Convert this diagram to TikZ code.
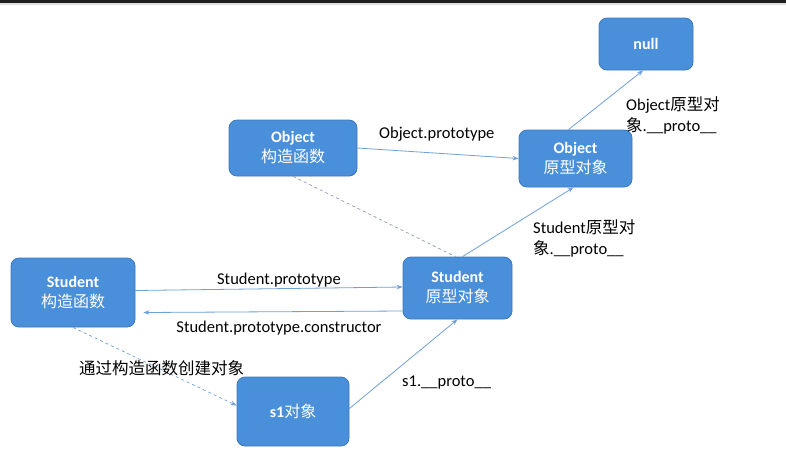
\documentclass[tikz,border=0pt]{standalone}
\usepackage{fontspec}
\setmainfont{Carlito}
\newfontfamily\cjk{Noto Sans CJK SC}
\usetikzlibrary{arrows.meta,calc}
\definecolor{boxblue}{HTML}{4A8FD9}
\definecolor{boxedge}{HTML}{3C78BE}
\definecolor{linkblue}{HTML}{6FA0D8}
\definecolor{dashgray}{HTML}{8E9BB0}
\newcommand\zh[1]{{\cjk\mdseries #1}}
\begin{document}
\begin{tikzpicture}[x=1pt,y=-1pt,
  box/.style={draw=boxedge,line width=0.8pt,fill=boxblue,rounded corners=8pt,
    text=white,font=\bfseries\fontsize{16}{20}\selectfont,align=center,inner sep=0pt},
  arr/.style={draw=linkblue,line width=0.8pt,-{Stealth[length=6pt,width=4.5pt]}},
  lbl/.style={font=\fontsize{16.5}{21}\selectfont,text=black,inner sep=0pt,align=left}]
\useasboundingbox (0,0) rectangle (786,459);
\fill[white] (0,0) rectangle (786,459);
\fill[black!88] (0,0) rectangle (786,2.5);
\fill[black!12] (0,2.5) rectangle (786,5);
% boxes
\node[box,minimum width=94pt,minimum height=52pt] (null) at (646,44) {null};
\node[box,minimum width=128pt,minimum height=56pt] (objctor) at (293,148) {Object\\\zh{构造函数}};
\node[box,minimum width=113pt,minimum height=57pt] (objproto) at (575.5,158.5) {Object\\\zh{原型对象}};
\node[box,minimum width=109pt,minimum height=62pt] (stuproto) at (457.5,288) {Student\\\zh{原型对象}};
\node[box,minimum width=124pt,minimum height=69pt] (stuctor) at (73,292.5) {Student\\\zh{构造函数}};
\node[box,minimum width=112pt,minimum height=69pt] (s1) at (293,411.5) {s1\zh{对象}};
% connectors
\draw[arr] (objctor.east) -- (objproto.west);
\draw[dashgray,dashed,line width=0.7pt] (objctor.south) -- ($(stuproto.north)+(-2,0)$);
\draw[arr] ($(stuproto.north)+(5,0)$) -- ($(objproto.south)+(-2,0)$);
\draw[arr] ($(objproto.north)+(-7,0)$) -- ($(null.south)+(-3,0)$);
\draw[arr] ($(stuctor.east)+(0,-2)$) -- ($(stuproto.west)+(0,-1)$);
\coordinate (ctorend) at ($(stuctor.east)+(8,20)$);
\draw[arr] ($(stuproto.west)+(0,23)$) -- (ctorend);
\draw[arr,dashed,line width=0.7pt] (stuctor.south) -- ($(s1.west)+(0,-6)$);
\draw[arr] ($(s1.east)+(0,-3)$) -- (stuproto.south);
% labels
\node[lbl,anchor=west] (l1) at (379,134) {Object.prototype};
\node[lbl,anchor=north west] (l2) at (626,96) {Object\zh{原型对}\\\zh{象}.\_\_proto\_\_};
\node[lbl,anchor=north west] (l3) at (533,219) {Student\zh{原型对}\\\zh{象}.\_\_proto\_\_};
\node[lbl] (l4) at (279,280) {Student.prototype};
\node[lbl] (l5) at (279,328) {Student.prototype.constructor};
\node[lbl,anchor=west] (l6) at (79,368) {\zh{通过构造函数创建对象}};
\node[lbl,anchor=west] (l7) at (402,383) {s1.\_\_proto\_\_};
\end{tikzpicture}
\end{document}
